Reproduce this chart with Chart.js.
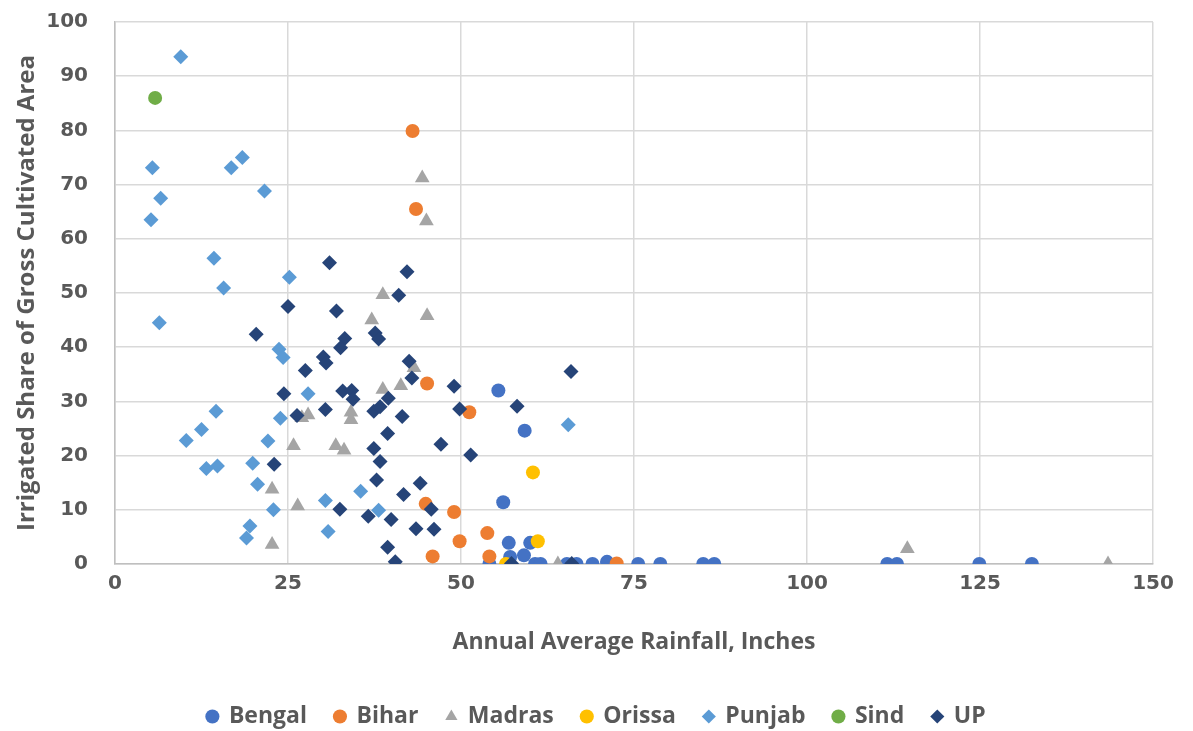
<!DOCTYPE html>
<html>
<head>
<meta charset="utf-8">
<title>Irrigation vs Rainfall</title>
<script src="https://cdn.jsdelivr.net/npm/chart.js"></script>
<style>
  html, body { margin: 0; padding: 0; background: #fff; }
  #chart { display: block; }
</style>
</head>
<body>
<canvas id="chart" width="1193" height="731"></canvas>
<script>
// [annual rainfall (in), irrigated share (%)]
const bengal = [
    [55.4, 32.0], [59.2, 24.6], [56.1, 11.4], [56.9, 3.9], [60.0, 3.9], [57.1, 1.3],
    [59.1, 1.6], [54.1, 0], [60.7, 0], [61.5, 0], [65.3, 0], [66.7, 0], [69.0, 0],
    [71.1, 0.4], [75.6, 0], [78.8, 0], [85.0, 0], [86.6, 0], [111.6, 0], [113.0, 0],
    [124.9, 0], [132.5, 0]
];
const bihar = [
    [43.0, 79.9], [43.5, 65.5], [45.1, 33.3], [51.2, 28.0], [44.9, 11.1], [49.0, 9.6],
    [49.8, 4.2], [45.9, 1.4], [53.8, 5.7], [54.1, 1.4], [72.5, 0.1]
];
const madras = [
    [22.7, 13.8], [26.4, 10.7], [22.7, 3.6], [25.8, 21.8], [27.0, 27.0], [27.9, 27.5],
    [31.9, 21.8], [33.1, 21.0], [34.1, 28.0], [34.1, 26.6], [38.7, 32.2], [41.3, 32.9],
    [43.2, 36.2], [38.7, 49.7], [37.1, 45.0], [45.1, 45.8], [44.4, 71.2], [45.0, 63.3],
    [64.0, 0], [114.5, 2.8], [143.5, 0]
];
const orissa = [
    [60.4, 16.9], [61.1, 4.2], [56.5, 0]
];
const punjab = [
    [9.5, 93.6], [5.4, 73.1], [16.8, 73.1], [18.4, 75.0], [6.6, 67.5], [5.2, 63.5],
    [21.6, 68.8], [14.3, 56.4], [25.2, 52.9], [15.7, 50.9], [6.4, 44.5], [23.7, 39.6],
    [24.3, 38.1], [27.9, 31.4], [14.6, 28.2], [23.9, 26.9], [12.5, 24.8], [10.3, 22.8],
    [22.1, 22.7], [13.2, 17.6], [14.8, 18.1], [19.9, 18.6], [20.6, 14.7], [22.9, 10.0],
    [30.4, 11.7], [35.5, 13.4], [38.1, 9.9], [19.5, 7.0], [19.0, 4.8], [30.8, 6.0],
    [65.5, 25.7]
];
const sind = [
    [5.8, 86.0]
];
const up = [
    [31.0, 55.6], [25.0, 47.5], [32.0, 46.7], [20.4, 42.4], [33.2, 41.6], [32.6, 39.9],
    [30.1, 38.2], [30.5, 37.1], [27.5, 35.7], [24.4, 31.4], [32.9, 31.9], [34.2, 32.0],
    [34.4, 30.4], [30.4, 28.5], [26.3, 27.4], [23.0, 18.4], [32.5, 10.1], [42.2, 53.9],
    [41.0, 49.6], [37.6, 42.6], [38.1, 41.5], [42.5, 37.4], [42.9, 34.3], [49.0, 32.8],
    [39.5, 30.6], [37.4, 28.2], [38.3, 29.0], [41.5, 27.2], [49.8, 28.6], [39.4, 24.1],
    [47.1, 22.1], [51.4, 20.1], [37.4, 21.3], [38.3, 18.9], [37.8, 15.5], [44.1, 14.9],
    [41.7, 12.8], [45.7, 10.1], [36.6, 8.8], [39.9, 8.2], [43.5, 6.5], [46.1, 6.4],
    [39.4, 3.1], [40.5, 0.4], [65.9, 35.5], [58.1, 29.1], [57.3, 0.1], [66.0, 0.1]
];

const seriesNames = ['Bengal', 'Bihar', 'Madras', 'Orissa', 'Punjab', 'Sind', 'UP'];
const seriesData = [bengal, bihar, madras, orissa, punjab, sind, up];
const seriesColors = ['#4472C4', '#ED7D31', '#A5A5A5', '#FFC000', '#5B9BD5', '#70AD47', '#264478'];
const seriesStyles = ['circle', 'circle', 'triangle', 'circle', 'rectRot', 'circle', 'rectRot'];
const seriesRadius = [7, 7, 8.5, 7, 7.5, 7, 7.5];

const xTicks = [0, 25, 50, 75, 100, 125, 150];
const yTicks = [0, 10, 20, 30, 40, 50, 60, 70, 80, 90, 100];

const textColor = '#595959';
const gridColor = '#D9D9D9';
const noColor = 'rgba(0,0,0,0)';

const datasets = seriesNames.map((name, i) => ({
    label: name,
    data: seriesData[i].map(p => ({ x: p[0], y: p[1] })),
    backgroundColor: seriesColors[i],
    borderColor: seriesColors[i],
    borderWidth: 0,
    pointStyle: seriesStyles[i],
    pointRadius: seriesRadius[i],
    pointHoverRadius: seriesRadius[i],
    // later series sit on top, like the spreadsheet
    order: seriesNames.length - i
}));

new Chart(document.getElementById('chart'), {
    type: 'scatter',
    data: { datasets: datasets },
    options: {
        responsive: false,
        animation: false,
        devicePixelRatio: 1,
        layout: { padding: { top: 22, right: 0, bottom: -7, left: 0 } },
        scales: {
            x: {
                type: 'linear',
                min: 0,
                max: 150,
                afterBuildTicks: s => { s.ticks = xTicks.map(v => ({ value: v })); },
                afterFit: s => { s.height = 113; },
                grid: { color: gridColor, lineWidth: 1.5, drawTicks: true, tickLength: 8, tickColor: noColor },
                border: { display: true, color: '#BFBFBF', width: 1.5 },
                ticks: {
                    padding: 0,
                    color: textColor,
                    font: { family: 'DejaVu Sans', size: 20, weight: 'bold' }
                },
                title: {
                    display: true,
                    text: 'Annual Average Rainfall, Inches',
                    color: textColor,
                    padding: { top: 0, bottom: 21 },
                    font: { family: 'Open Sans', size: 23, weight: 'bold' }
                }
            },
            y: {
                type: 'linear',
                min: 0,
                max: 100,
                afterBuildTicks: s => { s.ticks = yTicks.map(v => ({ value: v })); },
                afterFit: s => { s.width = 115; },
                grid: { color: gridColor, lineWidth: 1.5, drawTicks: true, tickLength: 27, tickColor: noColor },
                border: { display: true, color: '#BFBFBF', width: 1.5 },
                ticks: {
                    padding: 0,
                    color: textColor,
                    font: { family: 'DejaVu Sans', size: 20, weight: 'bold' }
                },
                title: {
                    display: true,
                    text: 'Irrigated Share of Gross Cultivated Area',
                    color: textColor,
                    padding: { top: 13, bottom: 0 },
                    font: { family: 'Open Sans', size: 24, weight: 'bold' }
                }
            },
            // empty right margin so the plot ends at 150 while the legend stays centred on the page
            yRight: {
                type: 'linear',
                position: 'right',
                display: true,
                afterFit: s => { s.width = 40; },
                grid: { display: false, drawTicks: false },
                border: { display: false },
                ticks: { display: false }
            }
        },
        plugins: {
            tooltip: { enabled: false },
            legend: {
                position: 'bottom',
                labels: {
                    usePointStyle: true,
                    boxWidth: 10,
                    boxHeight: 10,
                    padding: 28,
                    color: textColor,
                    font: { family: 'Open Sans', size: 23, weight: 'bold' },
                    sort: (a, b) => a.datasetIndex - b.datasetIndex
                }
            }
        }
    }
});
</script>
</body>
</html>
